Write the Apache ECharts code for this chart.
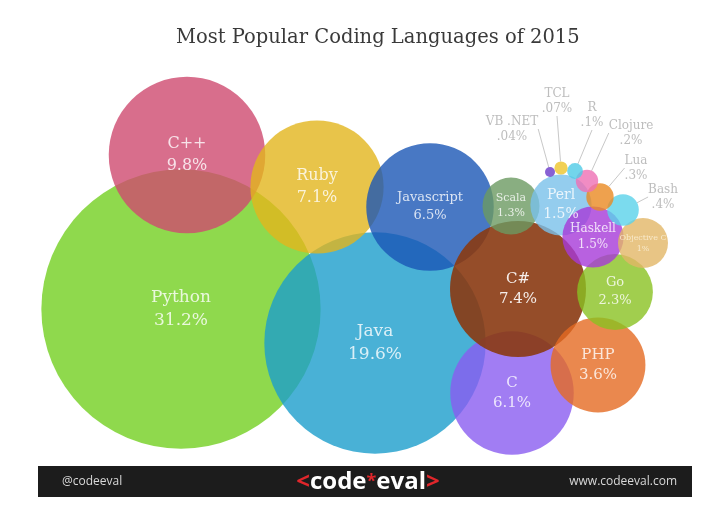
<!DOCTYPE html>
<html>
<head>
<meta charset="utf-8">
<script src="https://cdn.jsdelivr.net/npm/echarts@6/dist/echarts.min.js"></script>
<style>html,body{margin:0;padding:0;background:#fff}#c{width:711px;height:512px}</style>
</head>
<body>
<div id="c"></div>
<script>
// ---- data ----
const languages = ['Python','Java','C++','Ruby','Javascript','C','C#','PHP','Go','Scala','Perl','Haskell','Objective C','Bash','Lua','Clojure','R','TCL','VB .NET'];
const shares = [31.2,19.6,9.8,7.1,6.5,6.1,7.4,3.6,2.3,1.3,1.5,1.5,1,0.4,0.3,0.2,0.1,0.07,0.04];
const shareLabels = ['31.2%','19.6%','9.8%','7.1%','6.5%','6.1%','7.4%','3.6%','2.3%','1.3%','1.5%','1.5%','1%','.4%','.3%','.2%','.1%','.07%','.04%'];
const posX = [181,375,187,317,430,512,518,598,615,511,561,593,643,623,600,587,575,561,550];
const posY = [309,343,155,187,207,393,289,365,292,206,205,237,243,210,197,181,171,168,172];

// ---- styles ----
const colors = {
  'Python':'#73cf21','Java':'#1c9dcc','C++':'#ce4a6f','Ruby':'#e2b51d','Javascript':'#1a56b5',
  'C':'#8a5cf0','C#':'#8a3a12','PHP':'#e56a22','Go':'#8ac222','Scala':'#6c9a62','Perl':'#79c0ea',
  'Haskell':'#a63ad8','Objective C':'#e2b766','Bash':'#5ad2ea','Lua':'#ea8a22','Clojure':'#ee6fb4',
  'R':'#4fcbe6','TCL':'#eec42a','VB .NET':'#6a3ac8'
};
const alpha = {'C#':0.9};
const fontSizes = {'Python':17,'Java':17,'C++':16,'Ruby':16,'Javascript':13,'C':15,'C#':15,'PHP':15,'Go':13,'Scala':11,'Perl':14,'Haskell':12,'Objective C':8};
const outerOffsets = {'Bash':[40,-13],'Lua':[36,-29],'Clojure':[44,-48],'R':[17,-56],'TCL':[-4,-67],'VB .NET':[-38,-43]};
const K = 25;
const FONT = '"DejaVu Serif", serif';

function item(i){
  const name = languages[i];
  const inner = fontSizes[name] !== undefined;
  return {
    name: name,
    value: [posX[i], posY[i], shares[i]],
    itemStyle: {color: colors[name], opacity: alpha[name] || 0.8},
    label: inner ? {
      show: true, position: 'inside', color: name === 'Objective C' ? '#fdf3dc' : '#fff', fontFamily: FONT,
      fontSize: fontSizes[name], lineHeight: Math.round(fontSizes[name]*1.35),
      formatter: name + '\n' + shareLabels[i]
    } : {
      show: true, position: 'inside', color: '#adadad', fontFamily: FONT,
      fontSize: 12, lineHeight: 15,
      formatter: name + '\n' + shareLabels[i]
    }
  };
}
const bigIdx = [], smallIdx = [];
languages.forEach((n,i)=>{ (fontSizes[n] !== undefined ? bigIdx : smallIdx).push(i); });

const chart = echarts.init(document.getElementById('c'), null, {renderer:'canvas'});
chart.setOption({
  animation: false,
  backgroundColor: '#fff',
  title: {
    text: 'Most Popular Coding Languages of 2015', left: 171, top: 23,
    textStyle: {fontFamily: FONT, fontWeight: 'normal', fontSize: 19.5, color: '#3a3a3a'}
  },
  grid: {left: 0, right: 0, top: 0, bottom: 0},
  xAxis: {type: 'value', min: 0, max: 711, show: false},
  yAxis: {type: 'value', min: 0, max: 512, inverse: true, show: false},
  series: [
    {
      type: 'scatter', symbol: 'circle',
      symbolSize: v => 2 * K * Math.sqrt(v[2]),
      emphasis: {disabled: true},
      data: bigIdx.map(item)
    },
    {
      type: 'scatter', symbol: 'circle',
      symbolSize: v => 2 * K * Math.sqrt(v[2]),
      emphasis: {disabled: true},
      data: smallIdx.map(item),
      labelLayout: function(p){
        const o = outerOffsets[languages[smallIdx[p.dataIndex]]];
        return {dx: o[0], dy: o[1]};
      },
      labelLine: {show: true, lineStyle: {color: '#c8c8c8', width: 1}}
    }
  ],
  graphic: [
    {type: 'rect', shape: {x: 38, y: 466, width: 654, height: 31}, style: {fill: '#1c1c1c'}},
    {type: 'text', x: 62, y: 482, style: {text: '@codeeval', fill: '#d8d8d8', font: '12px "Open Sans"', verticalAlign: 'middle'}},
    {type: 'text', x: 677, y: 482, style: {text: 'www.codeeval.com', fill: '#d8d8d8', font: '12px "Open Sans"', align: 'right', verticalAlign: 'middle'}},
    {type: 'text', x: 368, y: 482, style: {
      text: '{r|<}{w|code}{s|*}{w|eval}{r|>}', align: 'center', verticalAlign: 'middle',
      rich: {
        r: {fill: '#e0262b', font: 'bold 24px "Open Sans"'},
        w: {fill: '#ffffff', font: 'bold 24px "Open Sans"'},
        s: {fill: '#e0262b', font: 'bold 18px "Open Sans"'}
      }
    }}
  ]
});
</script>
</body>
</html>
